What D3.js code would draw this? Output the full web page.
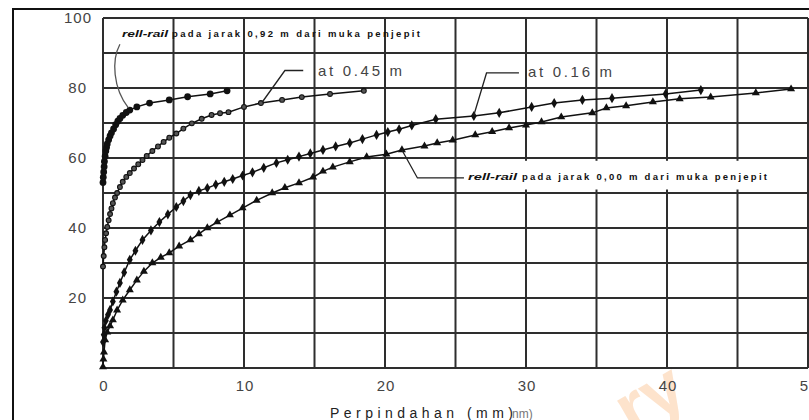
<!DOCTYPE html>
<html><head><meta charset="utf-8">
<script src="https://cdn.jsdelivr.net/npm/d3@7"></script>
<style>html,body{margin:0;padding:0;background:#fff;}svg{display:block;}</style>
</head><body>
<script>
// ---- data (x: displacement mm, y: load) ----
const s092 = [[0,53],[0.02,54.5],[0.05,56],[0.08,57.5],[0.1,59],[0.15,60.5],[0.2,62],[0.25,63],[0.3,64],[0.4,65.2],[0.5,66.3],[0.6,67.2],[0.75,68.3],[0.9,69.5],[1.05,70.5],[1.2,71.3],[1.4,72.2],[1.65,73],[1.9,73.7],[2.4,74.6],[3.3,75.7],[4.7,76.6],[6.0,77.5],[7.6,78.3],[8.8,79.2]];
const s045 = [[0,29],[0.05,32],[0.1,34.5],[0.15,36.6],[0.22,38.5],[0.3,40.3],[0.4,42.2],[0.5,44],[0.6,45.6],[0.7,47.1],[0.85,48.7],[1.0,50],[1.2,51.7],[1.4,53.2],[1.65,54.6],[1.9,55.7],[2.2,57],[2.5,58.2],[2.8,59.4],[3.1,60.6],[3.5,62],[3.9,63.3],[4.3,64.6],[4.7,65.8],[5.2,67],[5.7,68.4],[6.3,69.9],[7.0,71.2],[7.7,72.3],[8.3,72.8],[8.9,73.1],[10,74.6],[11.2,75.7],[12.7,76.6],[14.1,77.4],[16.1,78.3],[18.5,79.2]];
const s016 = [[0,7.4],[0.05,9.5],[0.1,11.5],[0.2,13.5],[0.35,15.2],[0.5,16.6],[0.7,19],[0.95,21.8],[1.2,24.3],[1.5,27.3],[1.9,30.9],[2.3,33.5],[2.8,36.6],[3.4,39.3],[4.0,41.7],[4.6,43.9],[5.2,46],[5.7,47.7],[6.2,49.4],[6.8,50.6],[7.4,51.4],[8.0,52.4],[8.6,53.2],[9.2,54],[9.9,55],[10.6,55.9],[11.4,57.2],[12.3,58.6],[13.1,59.5],[13.9,60.4],[14.7,61.3],[15.6,62.3],[16.5,63.3],[17.5,64.3],[18.4,65.4],[19.4,66.6],[20.2,67.4],[21,68.2],[21.9,69.3],[23.6,71.1],[26.3,72],[28.1,72.9],[30.4,74.6],[32,75.7],[34,76.6],[36.1,77.1],[39.9,78.3],[42.4,79.4]];
const s000 = [[0,0.3],[0.03,2.5],[0.07,4.5],[0.15,8],[0.3,10.2],[0.5,12],[0.7,13.7],[1.0,16.5],[1.4,19.4],[1.9,22.3],[2.4,25.1],[2.9,27.6],[3.5,30],[4.1,31.6],[4.7,32.9],[5.4,34.8],[6.2,36.6],[6.8,38.3],[7.4,40],[8.1,41.7],[9.0,43.7],[9.9,45.7],[10.9,47.9],[12,50],[12.9,51.5],[13.9,52.9],[14.9,54.5],[15.6,56.2],[16.3,57.4],[17.5,58.9],[18.7,60.3],[20.1,61.1],[21.2,62.3],[22.8,63.4],[23.7,64.3],[24.8,65.1],[26.4,66.6],[27.6,67.5],[28.8,68.6],[30,69.4],[31.1,70.3],[32.5,71.7],[34.7,72.9],[35.7,74.3],[37.1,74.9],[39,76],[40.9,76.9],[43.1,77.4],[46.3,78.6],[48.8,79.7]];
const xTickLabels = [0,10,20,30,40,50];
const yTickLabels = [20,40,60,80,100];
const xGrid = [0,5,10,15,20,25,30,35,40,45,50];
const yGrid = [0,10,20,30,40,50,60,70,80,90,100];
const xTitle = "Perpindahan (mm)";

const W=809,H=420;
const svg=d3.select("body").append("svg").attr("width",W).attr("height",H);
const x=d3.scaleLinear().domain([0,50]).range([103,808]);
const y=d3.scaleLinear().domain([0,100]).range([368,18]);

// outer frame
svg.append("path").attr("d",`M13,${H} L13,9 L${W},9`).attr("fill","none").attr("stroke","#111").attr("stroke-width",2);

// watermark
svg.append("text").attr("x",632).attr("y",436).attr("transform","rotate(-30,632,436)")
  .attr("font-family","Liberation Sans, Arial").attr("font-weight","bold").attr("font-size",72)
  .attr("fill","#f9a45a").attr("opacity",0.3).text("ry");

// grid
const g=svg.append("g");
g.selectAll("line.v").data(xGrid).join("line").attr("x1",d=>x(d)).attr("x2",d=>x(d)).attr("y1",y(0)).attr("y2",y(100))
 .attr("stroke","#2e2e2e").attr("stroke-width",2);
g.selectAll("line.h").data(yGrid).join("line").attr("y1",d=>y(d)).attr("y2",d=>y(d)).attr("x1",x(0)).attr("x2",x(50))
 .attr("stroke","#2e2e2e").attr("stroke-width",2);

// white box behind bottom annotation
svg.append("rect").attr("x",x(25.8)).attr("y",y(59.2)).attr("width",x(48.2)-x(25.8)).attr("height",y(51)-y(59.2)).attr("fill","#fff");

// tick labels
svg.selectAll("text.yt").data(yTickLabels).join("text")
 .attr("x",d=>d===100?92:87).attr("y",d=>y(d)+5).attr("text-anchor","end")
 .attr("font-family","Liberation Sans, Arial").attr("font-size",15).attr("letter-spacing",1).attr("fill","#444").text(d=>d);
svg.selectAll("text.xt").data(xTickLabels).join("text")
 .attr("x",d=>x(d)+1).attr("y",391).attr("text-anchor","middle")
 .attr("font-family","Liberation Sans, Arial").attr("font-size",15).attr("letter-spacing",1).attr("fill","#444").text(d=>d);
svg.append("text").attr("x",330).attr("y",418).attr("textLength",183).attr("lengthAdjust","spacing")
 .attr("font-family","Liberation Sans, Arial").attr("font-size",14).attr("fill","#222").text(xTitle);
svg.append("text").attr("x",512).attr("y",418)
 .attr("font-family","Liberation Sans, Arial").attr("font-size",12).attr("fill","#777").text("nm)");

// series
const line=d3.line().x(d=>x(d[0])).y(d=>y(d[1]));
function drawLine(data){svg.append("path").datum(data).attr("d",line).attr("fill","none").attr("stroke","#111").attr("stroke-width",1.5);}
[s092,s045,s016,s000].forEach(drawLine);
svg.selectAll("circle.a").data(s092).join("circle").attr("cx",d=>x(d[0])).attr("cy",d=>y(d[1])).attr("r",3.4).attr("fill","#111");
svg.selectAll("circle.b").data(s045).join("circle").attr("cx",d=>x(d[0])).attr("cy",d=>y(d[1])).attr("r",2.4).attr("fill","#555").attr("stroke","#111").attr("stroke-width",1.1);
const diamond=d3.symbol().type(d3.symbolDiamond).size(30);
svg.selectAll("path.c").data(s016).join("path").attr("d",diamond).attr("transform",d=>`translate(${x(d[0])},${y(d[1])})`).attr("fill","#111");
const tri=d3.symbol().type(d3.symbolTriangle).size(28);
svg.selectAll("path.d").data(s000).join("path").attr("d",tri).attr("transform",d=>`translate(${x(d[0])},${y(d[1])})`).attr("fill","#111");

// annotations
const ann=svg.append("g").attr("fill","none").attr("stroke","#222").attr("stroke-width",1.3);
ann.append("path").attr("d",`M${x(1.2)},${y(92.5)} C${x(0.6)},${y(88)} ${x(0.7)},${y(80)} ${x(1.8)},${y(74.3)}`).attr("stroke","#555");
ann.append("path").attr("d",`M${x(14.2)},${y(85)} L${x(12.9)},${y(85)} L${x(11.3)},${y(76)}`);
ann.append("path").attr("d",`M${x(29.5)},${y(84.3)} L${x(27.2)},${y(84.3)} L${x(26.3)},${y(72.2)}`);
ann.append("path").attr("d",`M${x(21.2)},${y(62.3)} L${x(22.3)},${y(54.3)} L${x(25.6)},${y(54.3)}`);

const tf="Liberation Sans, Arial";
function annText(x0,yb,len1,len2,gap,rest){
  svg.append("text").attr("x",x0).attr("y",yb).attr("font-family",tf).attr("font-style","italic").attr("font-weight","bold")
    .attr("font-size",9).attr("textLength",len1).attr("lengthAdjust","spacingAndGlyphs").attr("fill","#111").text("rell-rail");
  svg.append("text").attr("x",x0+len1+gap).attr("y",yb).attr("font-family",tf).attr("font-weight","bold")
    .attr("font-size",9.5).attr("textLength",len2).attr("lengthAdjust","spacing").attr("fill","#111").text(rest);
}
annText(122,37,46,248,4,"pada jarak 0,92 m dari muka penjepit");
annText(468,180,49,245,5,"pada jarak 0,00 m dari muka penjepit");

svg.append("text").attr("x",318).attr("y",76).attr("font-family",tf).attr("font-size",15).attr("textLength",84).attr("lengthAdjust","spacing").attr("fill","#444").text("at 0.45 m");
svg.append("text").attr("x",528).attr("y",77).attr("font-family",tf).attr("font-size",15).attr("textLength",84).attr("lengthAdjust","spacing").attr("fill","#444").text("at 0.16 m");
</script>
</body></html>
